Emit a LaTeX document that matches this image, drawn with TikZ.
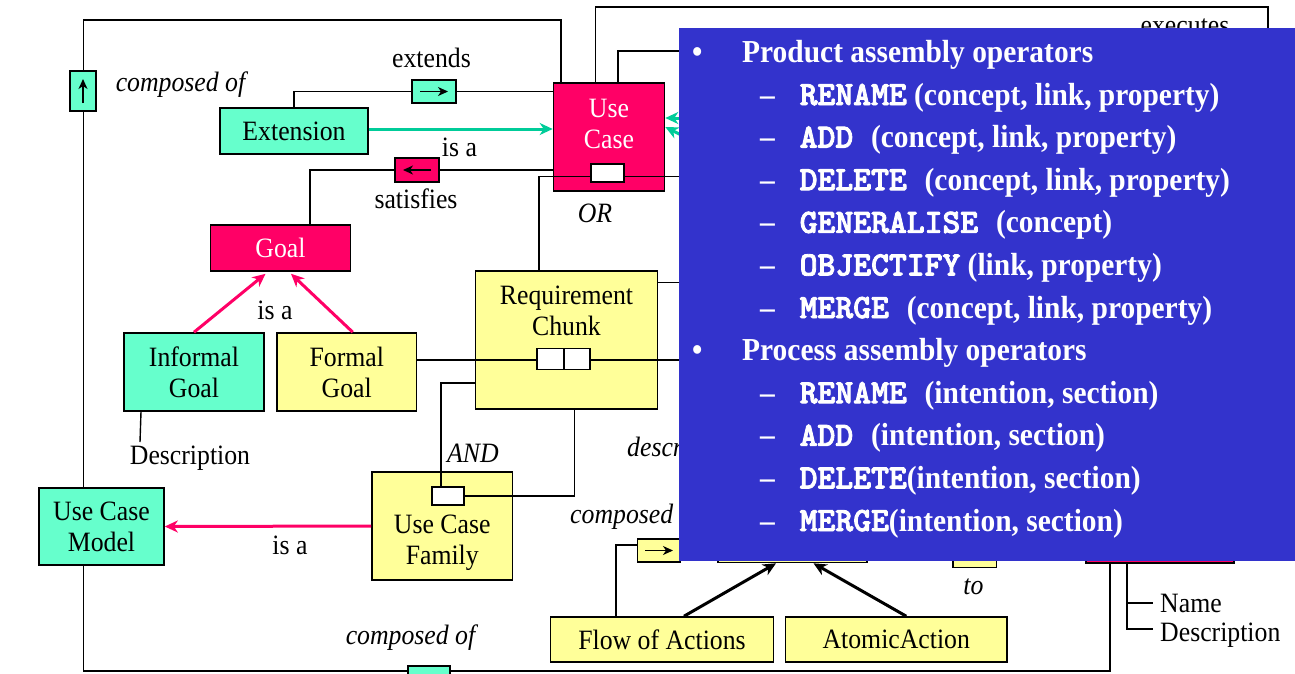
\documentclass[tikz,border=0pt]{standalone}
\usepackage{fontspec}
\setmainfont{Liberation Serif}[FakeStretch=0.92]
\newfontfamily\opsmono{lmmonolt10-bold}[Extension=.otf,FakeBold=2.5]
\newcommand\opm[1]{{\opsmono\fontsize{34}{36}\selectfont #1}}
\usetikzlibrary{arrows.meta,calc}

\definecolor{mint}{RGB}{102,255,204}
\definecolor{rosered}{RGB}{255,0,102}
\definecolor{paleyellow}{RGB}{255,255,153}
\definecolor{tealline}{RGB}{0,204,153}
\definecolor{slideblue}{RGB}{51,51,204}

\pgfdeclarelayer{bg}
\pgfsetlayers{bg,main}

\begin{document}
\begin{tikzpicture}[x=1pt,y=-1pt,
  font=\fontsize{28}{31}\selectfont,
  box/.style={draw=black,line width=1.6pt,inner sep=0pt,align=center},
  conn/.style={draw=black,line width=1.4pt},
  glyph/.style={line width=1.5pt,-{Stealth[length=10pt,width=9pt,inset=3pt]}},
  isa/.style={line width=3pt,-{Stealth[length=13pt,width=12pt,inset=4pt]}},
  lbl/.style={inner sep=0pt,align=center},
  rel/.style={inner sep=0pt,font=\fontsize{28}{31}\selectfont\itshape},
  opsline/.style={anchor=base west,inner sep=0pt,text=white,font=\fontsize{32}{36}\selectfont\bfseries},
]
\useasboundingbox (0,0) rectangle (1295,673);

% ---------- main concept boxes ----------
\node[box,fill=mint,minimum width=148pt,minimum height=46pt] (ext) at (294,131) {Extension};
\node[box,fill=rosered,minimum width=111pt,minimum height=108pt] (uc) at (609,137) {};
\node[lbl,text=white] (uctext) at (609,124) {Use\\Case};
\node[box,fill=rosered,minimum width=140pt,minimum height=46pt,text=white] (goal) at (280.5,248) {Goal};
\node[box,fill=mint,minimum width=140pt,minimum height=78pt] (igoal) at (194,372) {Informal\\Goal};
\node[box,fill=paleyellow,minimum width=139.5pt,minimum height=78pt] (fgoal) at (346.75,372) {Formal\\Goal};
\node[box,fill=paleyellow,minimum width=182pt,minimum height=138pt] (rc) at (566.5,340) {};
\node[lbl] (rctext) at (566.5,311) {Requirement\\Chunk};
\node[box,fill=paleyellow,minimum width=140.5pt,minimum height=108pt] (ucf) at (442.25,526) {};
\node[lbl] (ucftext) at (442.25,543) {Use Case\\Family};
\node[box,fill=mint,minimum width=125pt,minimum height=77pt] (ucm) at (101.5,526.5) {Use Case\\Model};
\node[box,fill=paleyellow,minimum width=223pt,minimum height=45pt] (fa) at (662,639.5) {Flow of Actions};
\node[box,fill=paleyellow,minimum width=221.5pt,minimum height=45pt] (aa) at (896.25,639.5) {AtomicAction};

% boxes lying under the operator panel
\node[box,fill=paleyellow,minimum width=149pt,minimum height=45pt] (act) at (792.5,540) {};
\node[box,fill=paleyellow,minimum width=43.5pt,minimum height=25pt] (tobox) at (974.75,555) {};
\node[box,fill=rosered,minimum width=147.5pt,minimum height=46pt] (pk) at (1160,540) {};

% ---------- role boxes ----------
\node[box,fill=mint,minimum width=26pt,minimum height=40pt] (rb1) at (83,91) {};
\draw[glyph] ([yshift=-12pt]rb1.center) -- ([yshift=12pt]rb1.center);
\node[box,fill=mint,minimum width=43.5pt,minimum height=23pt] (rb2) at (434,91.5) {};
\draw[glyph] ([xshift=-14pt]rb2.center) -- ([xshift=14pt]rb2.center);
\node[box,fill=rosered,minimum width=43.5pt,minimum height=24pt] (rb3) at (417,170) {};
\draw[glyph] ([xshift=14pt]rb3.center) -- ([xshift=-14pt]rb3.center);
\node[box,fill=mint,minimum width=42.5pt,minimum height=28pt] (rb4) at (429,680) {};
\node[box,fill=paleyellow,minimum width=43pt,minimum height=23pt] (rb5) at (659,550.5) {};
\draw[glyph] ([xshift=-14pt]rb5.center) -- ([xshift=14pt]rb5.center);

% ---------- labels ----------
\node[rel] (lcomp1) at (180.5,85) {composed of};
\node[lbl] (lext) at (431.5,58) {extends};
\node[lbl] (lisa1) at (459.5,147) {is a};
\node[lbl] (lsat) at (416,199) {satisfies};
\node[rel] (lor) at (595,213) {OR};
\node[lbl] (lisa2) at (275,310) {is a};
\node[lbl] (ldesc) at (190,458) {Description};
\node[rel] (land) at (473,453) {AND};
\node[lbl] (lisa3) at (290,545) {is a};
\node[rel] (lcomp2) at (410.5,638) {composed of};
\node[rel,anchor=west] (ldescr) at (627,450) {described by};
\node[rel,anchor=west] (lcomp3) at (570,517) {composed of};
\node[rel] (lto) at (973.5,587) {to};
\node[lbl,anchor=base] (lexec) at (1185,34.3) {executes};
\node[anchor=west,inner xsep=7pt,inner ysep=0pt] (lname) at (1153,603) {Name};
\node[anchor=west,inner xsep=7pt,inner ysep=0pt] (ldesc2) at (1153,635) {Description};

% ---------- connector points ----------
\coordinate (ftl) at (83.5,20);
\coordinate (ftr) at (561,20);
\coordinate (fbr) at (1110,671);
\coordinate (fend) at (1110,520);
\coordinate (ttl) at (595.5,7);
\coordinate (ttr) at (1268,7);
\coordinate (tend) at (1268,60);
\coordinate (utc) at (618,51);
\coordinate (utend) at (720,51);
\coordinate (sg) at (310,170);
\coordinate (orl) at (539,176.7);
\coordinate (orr) at (720,176.7);
\coordinate (rcr) at (720,282.7);
\coordinate (chr) at (720,360);
\coordinate (andc) at (441,383);
\coordinate (fr) at (574.5,497.7);
\coordinate (fal) at (616,545);
\coordinate (dl) at (140,442);
\coordinate (pv) at (1127,629);
\coordinate (pn) at (1127,603);
\coordinate (tr1) at (760,118);
\coordinate (tr2) at (745,167);

% ---------- connectors beneath the boxes ----------
\begin{pgfonlayer}{bg}
  \draw[conn] (uc.north -| ftr) -- (ftr) -- (ftl) -- (ucm.north -| ftl);
  \draw[conn] (ucm.south -| ftl) -- (ftl |- fbr) -- (fbr) -- (fend);
  \draw[conn] (uc.north -| ttl) -- (ttl) -- (ttr) -- (tend);
  \draw[conn] (uc.north -| utc) -- (utc) -- (utend);
  \draw[conn] (ext.north) |- (rb2.west);
  \draw[conn] (rb2.east) -- (rb2.east -| uc.west);
  \draw[conn] (uc.west |- rb3.east) -- (rb3.east);
  \draw[conn] (rb3.west) -- (rb3.west -| sg) -- (sg |- goal.north);
  \draw[conn] (rcr -| rc.east) -- (rcr);
  \draw[conn] (rb5.west |- fal) -- (fal) -- (fal |- fa.north);
  \draw[conn] ([xshift=-53pt]igoal.south) -- (dl);
  \draw[conn] (pk.south -| pv) -- (pv) -- (pv -| ldesc2.west);
  \draw[conn] (pn) -- (pn -| lname.west);
\end{pgfonlayer}

% ---------- connectors crossing box interiors ----------
\draw[conn] (rc.north -| orl) -- (orl) -- (orr);
\node[box,fill=white,minimum width=33pt,minimum height=18pt] (ucbox) at (607.5,173) {};
\draw[conn] (fgoal.east |- chr) -- (chr);
\node[box,fill=white,minimum width=27pt,minimum height=21pt] (rcb1) at (550.5,359) {};
\node[box,fill=white,minimum width=26pt,minimum height=21pt] (rcb2) at (577,359) {};
\draw[conn] (rc.west |- andc) -- (andc) -- (andc |- ucf.north) -- (andc |- 0,487);
\node[box,fill=white,minimum width=32pt,minimum height=18pt] (ucfbox) at (448,496) {};
\draw[conn] (ucfbox.east) -- (ucfbox.east -| fr) -- (fr |- rc.south);

% ---------- generalisation arrows ----------
\draw[isa,rosered] (igoal.north) -- ([xshift=-15pt,yshift=-2pt]goal.south);
\draw[isa,rosered] ([xshift=6pt]fgoal.north) -- ([xshift=10.5pt,yshift=-2pt]goal.south);
\draw[isa,rosered] (ucf.west) -- (ucm.east);
\draw[isa,tealline] ([yshift=2pt]ext.east) -- ([yshift=2pt]ext.east -| uc.west);
\draw[isa,tealline] (tr1) -- (tr1 -| uc.east);
\draw[isa,tealline] (tr2) -- ([yshift=10pt]uc.east);
\draw[isa,black] ([xshift=22pt]fa.north) -- ([xshift=-16.5pt]act.south);
\draw[isa,black] ([xshift=10pt]aa.north) -- ([xshift=21pt]act.south);

% ---------- operator panel ----------
\node[fill=slideblue,inner sep=0pt,minimum width=620pt,minimum height=533pt,anchor=north west] (ops) at (679,28) {};

\node[opsline] (bu1) at (692,62.5) {\textbullet};
\node[opsline] (hd1) at (742,62.5) {Product assembly operators};
\node[opsline] (bu2) at (692,360.5) {\textbullet};
\node[opsline] (hd2) at (742,360.5) {Process assembly operators};

\foreach \yy/\nm in {105/d1,147.6/d2,190.2/d3,232.8/d4,275.4/d5,318/d6,403.2/d7,445.8/d8,488.4/d9,531/d10}
  \node[opsline] (\nm) at (760,\yy) {–};

\node[opsline] (op1) at (799.5,105) {\opm{RENAME} (concept, link, property)};
\node[opsline] (op2) at (799.5,147.6) {\opm{ADD }(concept, link, property)};
\node[opsline] (op3) at (799.5,190.2) {\opm{DELETE }(concept, link, property)};
\node[opsline] (op4) at (799.5,232.8) {\opm{GENERALISE }(concept)};
\node[opsline] (op5) at (799.5,275.4) {\opm{OBJECTIFY} (link, property)};
\node[opsline] (op6) at (799.5,318) {\opm{MERGE }(concept, link, property)};
\node[opsline] (op7) at (799.5,403.2) {\opm{RENAME }(intention, section)};
\node[opsline] (op8) at (799.5,445.8) {\opm{ADD }(intention, section)};
\node[opsline] (op9) at (799.5,488.4) {\opm{DELETE}(intention, section)};
\node[opsline] (op10) at (799.5,531) {\opm{MERGE}(intention, section)};

\end{tikzpicture}
\end{document}
